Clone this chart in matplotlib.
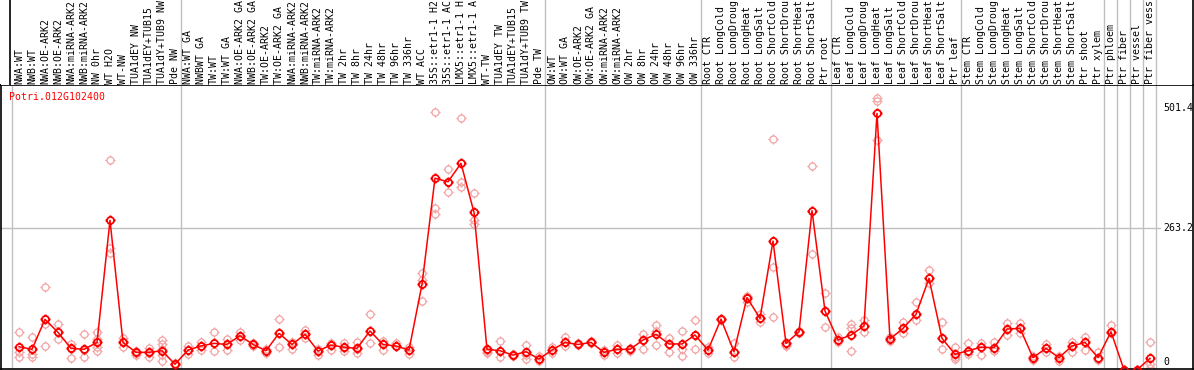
import matplotlib
matplotlib.use("Agg")
import matplotlib.pyplot as plt
import matplotlib.path as mpath
import numpy as np

gene_id = "Potri.012G102400"

samples = [
    "NWA:WT", "NWB:WT", "NWA:OE-ARK2", "NWB:OE-ARK2", "NWA:miRNA-ARK2", "NWB:miRNA-ARK2",
    "NW 0hr", "WT H2O", "WT-NW", "TUA1dEY NW", "TUA1dEY+TUB15", "TUA1dY+TUB9 NW", "Pde NW",
    "NWA:WT GA", "NWBWT GA", "TW:WT", "TW:WT GA", "NWA:OE-ARK2 GA", "NWB:OE-ARK2 GA",
    "TW:OE-ARK2", "TW:OE-ARK2 GA", "NWA:miRNA-ARK2", "NWB:miRNA-ARK2", "TW:miRNA-ARK2",
    "TW:miRNA-ARK2", "TW 2hr", "TW 8hr", "TW 24hr", "TW 48hr", "TW 96hr", "TW 336hr",
    "WT ACC", "35S::etr1-1 H2", "35S::etr1-1 AC", "LMX5::etr1-1 H", "LMX5::etr1-1 A",
    "WT-TW", "TUA1dEY TW", "TUA1dEY+TUB15", "TUA1dY+TUB9 TW", "Pde TW",
    "OW:WT", "OW:WT GA", "OW:OE-ARK2", "OW:OE-ARK2 GA", "OW:miRNA-ARK2", "OW:miRNA-ARK2",
    "OW 2hr", "OW 8hr", "OW 24hr", "OW 48hr", "OW 96hr", "OW 336hr",
    "Root CTR", "Root LongCold", "Root LongDroug", "Root LongHeat", "Root LongSalt",
    "Root ShortCold", "Root ShortDrou", "Root ShortHeat", "Root ShortSalt", "Ptr root",
    "Leaf CTR", "Leaf LongCold", "Leaf LongDroug", "Leaf LongHeat", "Leaf LongSalt",
    "Leaf ShortCold", "Leaf ShortDrou", "Leaf ShortHeat", "Leaf ShortSalt", "Ptr leaf",
    "Stem CTR", "Stem LongCold", "Stem LongDroug", "Stem LongHeat", "Stem LongSalt",
    "Stem ShortCold", "Stem ShortDrou", "Stem ShortHeat", "Stem ShortSalt", "Ptr shoot",
    "Ptr xylem", "Ptr phloem", "Ptr fiber", "Ptr vessel", "Ptr fiber vess",
]

# first sample index of each group (group separators)
group_starts = [0, 13, 41, 53, 63, 73, 84, 85, 86, 87, 88]

mean_values = [
    29.6, 24.4, 83.6, 58, 26.4, 24.4, 38, 279, 38, 18.5, 18.5, 21.7, -5,
    23, 31, 36.2, 34, 51.3, 34, 21.7, 56, 34, 54, 21, 33, 28.4, 26.4, 60.6,
    34, 31, 23, 152.6, 362, 355, 391.4, 294.7, 24.4, 21.7, 13, 19.7, 5.3,
    23, 38, 34, 38, 18.5, 24.4, 24.4, 42.8, 54, 35, 35, 52.7,
    23, 84, 19.7, 126.4, 85.6, 238, 36.2, 59, 298, 100,
    42.8, 52.7, 70.4, 490, 44.8, 65.8, 93.5, 164.5, 46, 14.6,
    21.7, 28.4, 27.7, 64.5, 65.8, 8, 26.4, 8, 31, 38, 8,
    59, -16, -16, 6.6,
]

replicate_values = [
    [59, 19.7, 10], [48, 14.5, 10], [146.7, 73.7, 31.6], [74.4, 44, 58], [34, 8, 26],
    [54, 10, 24], [59, 29.6, 21.7, 45], [398, 223.7, 215], [46, 29.6, 38], [22, 14, 18],
    [27, 10, 18], [42.8, 34, 26, 14, 1.4], [-5, -3, -6],
    [14.6, 30, 23], [39.5, 23, 31], [58, 21, 36], [44.8, 23, 34], [59, 42.8, 51],
    [37, 30, 34], [26, 18, 21], [84, 29.6, 56], [39.5, 26, 34], [62.5, 46, 54],
    [13, 26, 21], [36, 24, 33], [36, 22, 28], [39.5, 16.5, 26], [94, 36, 60],
    [41, 24, 34], [36, 30, 31],
    [29.6, 14.6, 23], [176, 161, 120], [492, 302.6, 290.8], [380, 334, 355],
    [481, 354, 344], [332, 279.6, 271], [20, 17, 24], [41, 8.7, 21.7], [16, 11, 13],
    [33, 13, 5], [12, 2, 5],
    [29.6, 16.5, 23], [49, 31, 38], [36, 32, 34], [40, 36, 38],
    [23, 13, 18.5], [33, 16.5, 24.4], [27, 22, 24.4], [54, 26, 42.8],
    [72.4, 60.6, 33], [46, 18.5, 35], [61, 26, 12], [81.6, 24.4, 52.7],
    [29.6, 16.5, 23], [85, 83, 84], [36, 10, 19.7], [130, 117, 126.4],
    [93.5, 77.7, 85.6], [439, 187.5, 87.6], [33, 31, 36.2], [61, 57, 59],
    [386, 212, 298], [135, 68, 100],
    [49, 38, 42.8], [73.7, 66, 21.7], [82, 59, 70.4], [521, 515, 437],
    [49, 40, 44.8], [77.7, 56, 65.8], [117, 82, 93.5], [181, 154.7, 164.5],
    [79, 26, 46], [28.4, 5.3, 10],
    [36, 14.6, 21.7], [37.5, 13, 28.4], [39.5, 21, 27.7], [75.7, 52.7, 64.5],
    [77, 56, 65.8], [12, 4, 8], [34, 20, 26.4], [12, 2, 8], [38, 20, 31],
    [48, 23, 38], [18.5, 3, 8],
    [72.4, 56, 59], [-16, -16, -16], [-16, -16, -16], [38, -5, -12],
]

W, H = 1194, 370
fig = plt.figure(figsize=(W / 100, H / 100), dpi=100)

# pixel helpers for layout
def xpx(p):
    return (p - 19) / 13.0

Y0_PX, PX_PER = 361.7, 0.5068
def vpx(py):
    return (Y0_PX - py) / PX_PER

xlim = (xpx(1), xpx(1193))
grid_color = "#c0c0c0"
red = "#ff0000"
pink = "#f2a4a4"
mono = "DejaVu Sans Mono"

# marker: circle with four small ticks
circ = mpath.Path.unit_circle()
tv = [(0, 1), (0, 1.45), (0, -1), (0, -1.45), (1, 0), (1.45, 0), (-1, 0), (-1.45, 0)]
tc = [mpath.Path.MOVETO, mpath.Path.LINETO] * 4
marker = mpath.Path.make_compound_path(circ, mpath.Path(tv, tc))

# main plot axes
ax = fig.add_axes([1 / W, 1 / H, 1192 / W, 284 / H])
ax.set_xlim(*xlim)
ax.set_ylim(vpx(369), vpx(85))
ax.set_xticks([])
ax.set_yticks([])
for s in ax.spines.values():
    s.set_color("black")
    s.set_linewidth(1.2)

for g in group_starts:
    ax.axvline(g - 0.56, color=grid_color, lw=1, zorder=1)
ax.plot([xlim[0], xpx(1160)], [263.2, 263.2], color=grid_color, lw=1, zorder=1)

x = np.arange(len(samples))
for i, reps in enumerate(replicate_values):
    ax.plot([i] * len(reps), reps, linestyle="none", marker=marker, markersize=7.3,
            markerfacecolor="none", markeredgecolor=pink, markeredgewidth=0.9, zorder=2)
ax.plot(x, mean_values, color=red, lw=1.1, zorder=3)
ax.plot(x, mean_values, linestyle="none", marker=marker, markersize=7.3,
        markerfacecolor="none", markeredgecolor=red, markeredgewidth=1.3, zorder=4)

ax.text(xpx(9.3), vpx(97), gene_id, color=red, family=mono, fontsize=7.1,
        ha="left", va="center")
for val in [501.4, 263.2, 0]:
    txt = str(val) if val != 0 else "0"
    ax.text(xpx(1163), val, txt, color="black", family=mono, fontsize=7.1,
            ha="left", va="center")

# header axes with sample labels
axh = fig.add_axes([1 / W, 285 / H, 1192 / W, 85 / H])
axh.set_xlim(*xlim)
axh.set_ylim(85, 0)
axh.set_xticks([])
axh.set_yticks([])
for k, s in axh.spines.items():
    s.set_visible(k == "right")
axh.spines["right"].set_color("black")
axh.spines["right"].set_linewidth(1.2)
axh.plot([xpx(10), xpx(10)], [0, 85], color="black", lw=1.2)
for g in group_starts[1:]:
    axh.axvline(g - 0.56, color=grid_color, lw=1, zorder=1)
for i, lab in enumerate(samples):
    axh.text(i, 83.5, lab, rotation=90, ha="center", va="bottom", family=mono,
             fontsize=7.1, color="black", clip_on=True)

fig.savefig("out.png", dpi=100, facecolor="white")
